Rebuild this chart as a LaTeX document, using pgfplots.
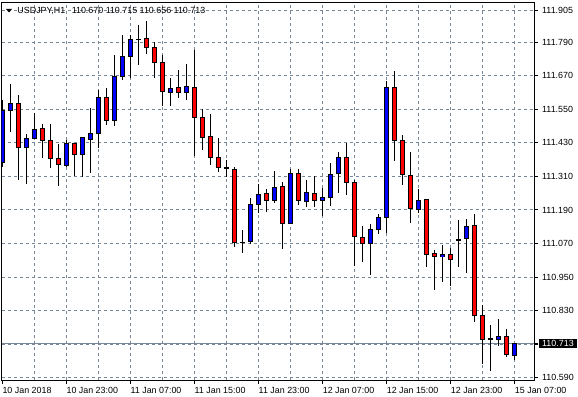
\documentclass[border=0pt]{standalone}
\usepackage{fontspec}
\setmainfont{Liberation Sans}
\usepackage{pgfplots}
\usepackage{pgfplotstable}
\pgfplotsset{compat=1.18}
\definecolor{gridc}{RGB}{119,136,153}
\definecolor{bull}{RGB}{0,0,255}
\definecolor{bear}{RGB}{255,0,0}
\pgfplotstableread{
i o h l c
0 111.360 111.583 111.345 111.544
1 111.546 111.640 111.470 111.572
2 111.572 111.601 111.297 111.416
3 111.416 111.464 111.283 111.446
4 111.446 111.537 111.444 111.478
5 111.482 111.496 111.374 111.438
6 111.440 111.497 111.341 111.375
7 111.375 111.426 111.277 111.353
8 111.348 111.440 111.345 111.428
9 111.428 111.430 111.311 111.389
10 111.389 111.451 111.310 111.450
11 111.443 111.555 111.323 111.464
12 111.463 111.621 111.413 111.593
13 111.593 111.625 111.496 111.511
14 111.511 111.744 111.490 111.669
15 111.667 111.816 111.655 111.741
16 111.738 111.817 111.662 111.800
17 111.801 111.851 111.711 111.801
18 111.804 111.866 111.750 111.772
19 111.772 111.790 111.661 111.718
20 111.718 111.744 111.565 111.614
21 111.611 111.661 111.563 111.625
22 111.629 111.690 111.591 111.611
23 111.611 111.712 111.583 111.633
24 111.629 111.762 111.384 111.523
25 111.521 111.553 111.404 111.452
26 111.453 111.532 111.351 111.378
27 111.378 111.446 111.327 111.342
28 111.341 111.371 111.309 111.341
29 111.335 111.342 111.058 111.074
30 111.075 111.118 111.037 111.075
31 111.077 111.235 111.070 111.210
32 111.210 111.283 111.178 111.246
33 111.250 111.267 111.184 111.225
34 111.224 111.329 111.216 111.273
35 111.274 111.289 111.052 111.142
36 111.142 111.339 111.140 111.321
37 111.321 111.337 111.208 111.225
38 111.220 111.297 111.202 111.253
39 111.250 111.311 111.202 111.225
40 111.225 111.270 111.169 111.235
41 111.235 111.359 111.206 111.318
42 111.321 111.397 111.252 111.378
43 111.378 111.430 111.245 111.289
44 111.289 111.297 110.990 111.097
45 111.093 111.133 111.004 111.071
46 111.071 111.142 110.960 111.121
47 111.121 111.175 111.106 111.164
48 111.164 111.651 111.109 111.629
49 111.629 111.687 111.366 111.439
50 111.439 111.457 111.279 111.317
51 111.314 111.397 111.144 111.196
52 111.192 111.265 111.180 111.225
53 111.228 111.228 110.987 111.031
54 111.035 111.049 110.904 111.024
55 111.023 111.065 110.933 111.031
56 111.032 111.056 110.918 111.012
57 111.085 111.154 110.987 111.085
58 111.088 111.158 110.966 111.133
59 111.136 111.175 110.790 110.812
60 110.813 110.850 110.641 110.727
61 110.731 110.778 110.615 110.731
62 110.727 110.800 110.704 110.739
63 110.738 110.764 110.665 110.674
64 110.670 110.715 110.656 110.713
}\candles
\begin{document}
\begin{tikzpicture}
\begin{axis}[name=ax, scale only axis, width=532.5bp, height=378bp,
  xmin=-0.1, xmax=66.4, ymin=110.58177, ymax=111.93370,
  axis line style={black, line width=0.9bp},
  xtick={8,16,...,64},
  xticklabels={10 Jan 23:00,11 Jan 07:00,11 Jan 15:00,11 Jan 23:00,12 Jan 07:00,12 Jan 15:00,12 Jan 23:00,15 Jan 07:00},
  extra x ticks={0}, extra x tick labels={10 Jan 2018},
  extra x tick style={grid=none},
  minor xtick={4,12,...,60},
  ytick={110.590,110.710,110.830,110.950,111.070,111.190,111.310,111.430,111.550,111.670,111.790,111.905},
  yticklabels={110.590,,110.830,110.950,111.070,111.190,111.310,111.430,111.550,111.670,111.790,111.905},
  extra y ticks={110.713}, extra y tick labels={110.713},
  extra y tick style={major grid style={solid, gridc, line width=0.9bp},
     yticklabel style={fill=black, text=white, inner xsep=3.3bp, inner ysep=1.6bp, xshift=-3.3bp}},
  xmajorgrids, xminorgrids, ymajorgrids,
  grid style={gridc, dash pattern=on 3bp off 3bp, line width=0.9bp},
  tick align=outside, major tick length=4bp, minor tick length=0pt,
  xtick pos=left, ytick pos=right, yticklabel pos=right,
  tick style={black, line width=0.9bp},
  ticklabel style={font=\fontsize{8.9bp}{10bp}\selectfont},
  xticklabel style={anchor=base west, inner sep=0pt, yshift=-9bp},
  yticklabel style={anchor=west, inner sep=0pt, xshift=4bp},
  unbounded coords=discard,
]
% wicks
\addplot [draw=none, mark=none, forget plot,
  error bars/.cd, y dir=both, y explicit, error mark=none,
  error bar style={draw=black, line width=1bp}]
  table [x=i, y expr={(\thisrow{h}+\thisrow{l})/2}, y error expr={(\thisrow{h}-\thisrow{l})/2}] {\candles};
% body outlines
\addplot [draw=none, mark=none, forget plot,
  error bars/.cd, y dir=both, y explicit, error mark=none,
  error bar style={draw=black, line width=5bp}]
  table [x=i, y expr={(\thisrow{o}+\thisrow{c})/2}, y error expr={abs(\thisrow{c}-\thisrow{o})/2+0.00179}] {\candles};
% bull bodies
\addplot [draw=none, mark=none, forget plot,
  restrict expr to domain={\thisrow{c}-\thisrow{o}}{0:5},
  error bars/.cd, y dir=both, y explicit, error mark=none,
  error bar style={draw=bull, line width=3bp}]
  table [x=i, y expr={(\thisrow{o}+\thisrow{c})/2}, y error expr={max(abs(\thisrow{c}-\thisrow{o})/2-0.00179,0)}] {\candles};
% bear bodies
\addplot [draw=none, mark=none, forget plot,
  restrict expr to domain={\thisrow{o}-\thisrow{c}}{0.0001:5},
  error bars/.cd, y dir=both, y explicit, error mark=none,
  error bar style={draw=bear, line width=3bp}]
  table [x=i, y expr={(\thisrow{o}+\thisrow{c})/2}, y error expr={max(abs(\thisrow{c}-\thisrow{o})/2-0.00179,0)}] {\candles};
\node[anchor=base west, inner sep=0pt, font=\fontsize{8.9bp}{10bp}\selectfont]
  at ([xshift=15.8bp, yshift=-11.3bp]rel axis cs:0,1)
  {USDJPY,H1\hspace{4bp} 110.670 110.715 110.656 110.713};
\fill[black] ([xshift=4.5bp, yshift=-7bp]rel axis cs:0,1) -- ++(6bp,0bp) -- ++(-3bp,-3.5bp) -- cycle;
\end{axis}
\pgfresetboundingbox
\path ([xshift=-1.5bp, yshift=-17bp]ax.south west) rectangle ([xshift=44bp, yshift=2bp]ax.north east);
\end{tikzpicture}
\end{document}
